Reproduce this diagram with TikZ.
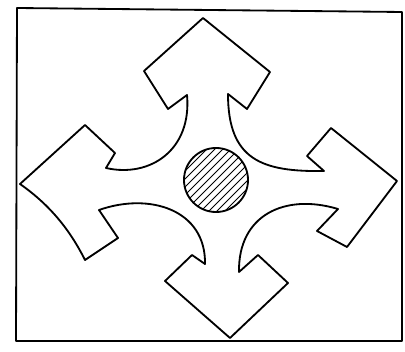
\documentclass[tikz,border=0pt]{standalone}
\usetikzlibrary{calc}
\tikzset{
  frame/.style={draw=black, line width=1.3pt, line join=round, line cap=round},
  outline/.style={draw=black, line width=1.3pt, line join=round},
  hatch/.style={draw=black, line width=0.7pt},
  hubdisc/.style={circle, draw=black, line width=1.3pt, minimum size=1.6cm, inner sep=0pt},
}
\begin{document}
\begin{tikzpicture}[x=0.025cm, y=-0.025cm]
    \useasboundingbox (0,0) rectangle (405,352);
    % sketch frame
    \draw[frame] (17,8) -- (402,12) -- (402,341) -- (16,341) -- cycle;
    % four arrows, one outline
    \draw[outline] (203,18) -- (270,72) -- (247,109) -- (228,94)
      .. controls (228,160) and (262,172) .. (324,171)
      -- (307,156) -- (331,128) -- (397,181) -- (347,247) -- (317,231) -- (338,209)
      .. controls (285,193) and (238,215) .. (239,272)
      -- (258,255) -- (288,283) -- (230,338) -- (165,281) -- (192,255) -- (205,264)
      .. controls (206,210) and (150,192) .. (99,210)
      -- (118,238) -- (85,260)
      .. controls (70,230) and (50,205) .. (20,184)
      -- (85,125) -- (115,153) -- (106,168)
      .. controls (150,178) and (192,150) .. (187,95)
      -- (168,109) -- (144,71) -- cycle;
    % hatched hub
    \coordinate (c) at (216,180);
    \begin{scope}
      \clip (c) circle [radius=32];
      \foreach \s in {-28,-24,...,28}
        \draw[hatch] ({216+\s-40},{180+\s+40}) -- ({216+\s+40},{180+\s-40});
    \end{scope}
    \node[hubdisc] (hub) at (c) {};
\end{tikzpicture}
\end{document}
